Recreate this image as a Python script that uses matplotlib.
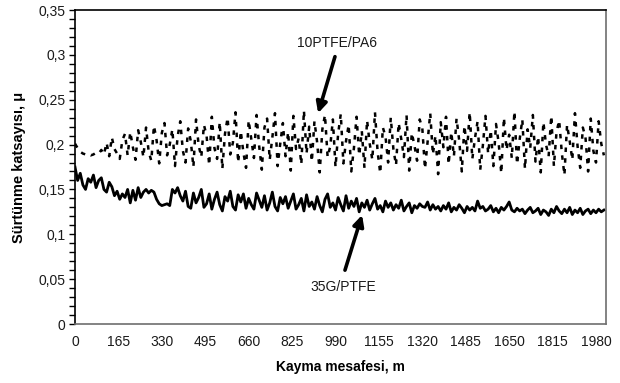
import numpy as np
import matplotlib
matplotlib.use("Agg")
import matplotlib.pyplot as plt
from matplotlib.ticker import FuncFormatter, MultipleLocator, FixedLocator

plt.rcParams['font.family'] = ['Liberation Sans', 'DejaVu Sans']

# sliding distance grid (m), sampled every 10 m
distance = np.arange(0, 2011, 10)

# 10PTFE/PA6 friction coefficient
mu_ptfe_pa6 = [
    0.201, 0.196, 0.192, 0.190, 0.189, 0.190, 0.188, 0.189, 0.191, 0.190,
    0.194, 0.189, 0.202, 0.187, 0.208, 0.195, 0.190, 0.184, 0.205, 0.212,
    0.188, 0.214, 0.197, 0.183, 0.216, 0.203, 0.186, 0.219, 0.192, 0.182,
    0.221, 0.205, 0.179, 0.213, 0.224, 0.188, 0.200, 0.217, 0.176, 0.209,
    0.226, 0.193, 0.180, 0.218, 0.204, 0.175, 0.228, 0.199, 0.186, 0.222,
    0.210, 0.177, 0.231, 0.196, 0.184, 0.225, 0.173, 0.212, 0.230, 0.189,
    0.202, 0.236, 0.180, 0.215, 0.191, 0.174, 0.227, 0.206, 0.185, 0.233,
    0.198, 0.172, 0.219, 0.229, 0.183, 0.208, 0.235, 0.176, 0.201, 0.224,
    0.187, 0.214, 0.171, 0.232, 0.195, 0.207, 0.178, 0.238, 0.190, 0.220,
    0.181, 0.226, 0.203, 0.169, 0.217, 0.233, 0.186, 0.198, 0.228, 0.175,
    0.212, 0.234, 0.179, 0.204, 0.222, 0.170, 0.196, 0.231, 0.188, 0.215,
    0.174, 0.227, 0.201, 0.183, 0.236, 0.192, 0.168, 0.219, 0.209, 0.180,
    0.230, 0.195, 0.177, 0.224, 0.206, 0.186, 0.233, 0.171, 0.213, 0.199,
    0.182, 0.228, 0.218, 0.173, 0.203, 0.235, 0.189, 0.210, 0.167, 0.225,
    0.197, 0.231, 0.178, 0.214, 0.187, 0.229, 0.205, 0.170, 0.221, 0.193,
    0.236, 0.184, 0.207, 0.226, 0.172, 0.199, 0.232, 0.190, 0.216, 0.176,
    0.223, 0.202, 0.168, 0.230, 0.194, 0.211, 0.185, 0.237, 0.178, 0.206,
    0.228, 0.173, 0.217, 0.196, 0.233, 0.181, 0.209, 0.169, 0.225, 0.200,
    0.187, 0.232, 0.176, 0.214, 0.227, 0.191, 0.166, 0.222, 0.204, 0.183,
    0.235, 0.198, 0.174, 0.219, 0.208, 0.170, 0.229, 0.193, 0.180, 0.226,
    0.201, 0.188,
]

# 35G/PTFE friction coefficient
mu_35g_ptfe = [
    0.175, 0.160, 0.168, 0.155, 0.150, 0.162, 0.158, 0.166, 0.152, 0.160,
    0.163, 0.150, 0.147, 0.158, 0.153, 0.143, 0.148, 0.139, 0.145, 0.141,
    0.150, 0.135, 0.149, 0.138, 0.152, 0.141, 0.147, 0.150, 0.146, 0.149,
    0.147, 0.139, 0.134, 0.132, 0.133, 0.134, 0.132, 0.150, 0.146, 0.152,
    0.143, 0.137, 0.148, 0.131, 0.129, 0.146, 0.135, 0.141, 0.150, 0.130,
    0.134, 0.145, 0.128, 0.139, 0.147, 0.133, 0.126, 0.142, 0.137, 0.148,
    0.131, 0.127, 0.144, 0.136, 0.145, 0.129, 0.140, 0.133, 0.128, 0.146,
    0.138, 0.130, 0.143, 0.127, 0.135, 0.147, 0.131, 0.126, 0.141, 0.134,
    0.142, 0.129, 0.137, 0.145, 0.128, 0.133, 0.140, 0.126, 0.144, 0.131,
    0.136, 0.128, 0.142, 0.132, 0.125, 0.139, 0.145, 0.130, 0.135, 0.127,
    0.141, 0.133, 0.126, 0.143, 0.129, 0.137, 0.131, 0.140, 0.125, 0.135,
    0.130, 0.138, 0.127, 0.134, 0.140, 0.128, 0.132, 0.125, 0.137, 0.130,
    0.135, 0.127, 0.133, 0.129, 0.138, 0.126, 0.131, 0.135, 0.124, 0.132,
    0.129, 0.134, 0.131, 0.130, 0.136, 0.127, 0.133, 0.128, 0.131, 0.126,
    0.132, 0.128, 0.135, 0.125, 0.130, 0.127, 0.133, 0.129, 0.124, 0.131,
    0.127, 0.130, 0.126, 0.137, 0.129, 0.131, 0.126, 0.128, 0.132, 0.125,
    0.129, 0.124, 0.130, 0.127, 0.131, 0.136, 0.127, 0.125, 0.129, 0.126,
    0.128, 0.123, 0.127, 0.130, 0.124, 0.126, 0.129, 0.122, 0.127, 0.125,
    0.121, 0.128, 0.124, 0.131, 0.126, 0.123, 0.128, 0.124, 0.130, 0.122,
    0.127, 0.124, 0.129, 0.122, 0.126, 0.128, 0.123, 0.127, 0.124, 0.128,
    0.125, 0.127,
]

x_ticks = [0, 165, 330, 495, 660, 825, 990, 1155, 1320, 1485, 1650, 1815, 1980]
y_ticks = [0, 0.05, 0.10, 0.15, 0.20, 0.25, 0.30, 0.35]

fig = plt.figure(figsize=(6.2, 3.83), dpi=100)
ax = fig.add_axes([75/620, 1-324/383, (606-75)/620, (324-10)/383])

ax.plot(distance, mu_ptfe_pa6, color='black', lw=1.8, linestyle=(0, (1.8, 2.5)))
ax.plot(distance, mu_35g_ptfe, color='black', lw=2.0)

ax.set_xlim(0, 2018)
ax.set_ylim(0, 0.35)

ax.xaxis.set_major_locator(FixedLocator(x_ticks))
ax.yaxis.set_major_locator(FixedLocator(y_ticks))
ax.yaxis.set_minor_locator(MultipleLocator(0.01))
ax.xaxis.set_minor_locator(FixedLocator([0]))

fmt = FuncFormatter(lambda v, p: ('%g' % round(v, 2)).replace('.', ','))
ax.yaxis.set_major_formatter(fmt)

ax.tick_params(axis='y', which='both', direction='out', length=4, width=1,
               color='black', labelsize=10, labelcolor='#1a1a1a', pad=3)
ax.tick_params(axis='x', which='major', length=0, labelsize=10,
               labelcolor='#1a1a1a', pad=8)
ax.tick_params(axis='x', which='minor', direction='out', length=4, width=1, color='black')

for s in ['top', 'left']:
    ax.spines[s].set_color('black')
for s in ['right', 'bottom']:
    ax.spines[s].set_color('#6e6e6e')
for s in ax.spines.values():
    s.set_linewidth(1.2)

ax.set_xlabel('Kayma mesafesi, m', fontsize=10, fontweight='bold', labelpad=8)
ax.set_ylabel('Sürtünme katsayısı, μ', fontsize=10.5, fontweight='bold', labelpad=9)

ax.annotate('', xy=(924, 0.235), xytext=(988, 0.298),
            arrowprops=dict(arrowstyle='-|>', lw=2.6, color='black', mutation_scale=16,
                            shrinkA=0, shrinkB=0))
ax.text(996, 0.313, '10PTFE/PA6', ha='center', va='center', fontsize=10, color='#1a1a1a')

ax.annotate('', xy=(1091, 0.1215), xytext=(1026, 0.060),
            arrowprops=dict(arrowstyle='-|>', lw=2.6, color='black', mutation_scale=16,
                            shrinkA=0, shrinkB=0))
ax.text(1019, 0.041, '35G/PTFE', ha='center', va='center', fontsize=10, color='#1a1a1a')

fig.savefig('out.png', dpi=100)
